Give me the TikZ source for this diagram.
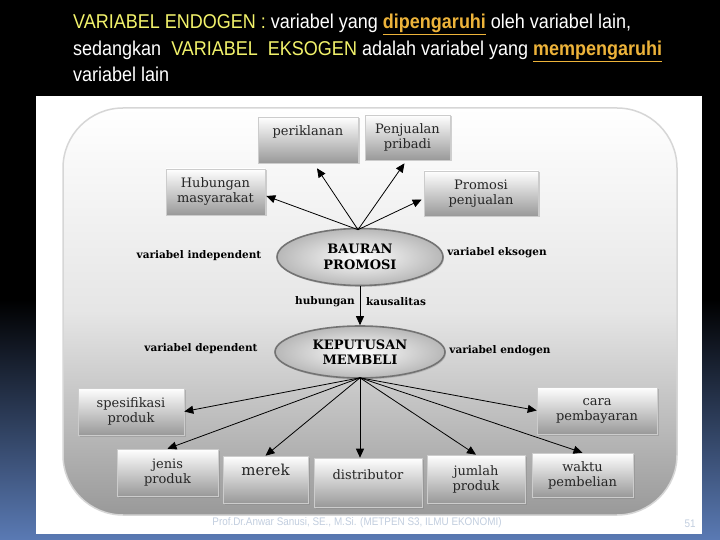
\documentclass[tikz,border=0pt]{standalone}
\usepackage{fontspec}
\setmainfont{DejaVu Serif}
\newfontfamily\headfont[FakeStretch=0.9]{Liberation Sans}
\usetikzlibrary{arrows.meta}
\usetikzlibrary{positioning}
\usetikzlibrary{shapes.geometric}
\usetikzlibrary{shadows}
\usetikzlibrary{calc}

\definecolor{titleyellow}{HTML}{F2F26B}
\definecolor{titleorange}{HTML}{EDB33A}
\definecolor{slideblue}{HTML}{5A7AB4}
\definecolor{footgray}{HTML}{C2CEDF}
\definecolor{panelline}{HTML}{D6D6D6}

\newcommand{\boxfont}{\fontsize{13}{15}\selectfont}
\newcommand{\tagfont}{\fontsize{10.5}{12}\selectfont\bfseries}
\newcommand{\headsize}{\headfont\fontsize{20}{24}\selectfont}

\tikzset{
  factor/.style={draw=white!80!black, line width=0.6pt, top color=white,
    bottom color=black!40, text=black!85, align=center, inner sep=0pt,
    font=\boxfont, drop shadow={opacity=0.35, shadow xshift=1.5pt, shadow yshift=-1.5pt}},
  core/.style={ellipse, draw=black!55, line width=1.6pt, inner color=white,
    outer color=black!28, align=center, inner sep=0pt,
    font=\fontsize{13}{15.5}\selectfont\bfseries,
    drop shadow={opacity=0.3, shadow xshift=1pt, shadow yshift=-1.5pt}},
  tag/.style={font=\tagfont, inner sep=0pt},
  heading/.style={anchor=base west, inner sep=0pt, font=\headsize, text=white},
  link/.style={-{Triangle[length=9pt,width=8pt]}, line width=0.8pt, black},
}

\begin{document}
\begin{tikzpicture}[x=1pt,y=-1pt]
  \useasboundingbox (0,0) rectangle (720,540);
  %slide background
  \fill[black] (0,0) rectangle (720,540);
  \shade[top color=black, bottom color=slideblue] (0,300) rectangle (720,540);
  \fill[white] (36,96) rectangle (702,534);
  \shade[top color=white, bottom color=black!40, middle color=black!10,
    draw=panelline, line width=1.5pt, rounded corners=60pt] (63,108) rectangle (677,515);

  %heading
  \node[heading] (line1) at (73,29)
    {\textcolor{titleyellow}{VARIABEL ENDOGEN :} variabel yang \textcolor{titleorange}{\bfseries\underline{dipengaruhi}} oleh variabel  lain,};
  \node[heading] (line2) at (73,56)
    {sedangkan \ \textcolor{titleyellow}{VARIABEL \ EKSOGEN} adalah variabel yang \textcolor{titleorange}{\bfseries\underline{mempengaruhi}}};
  \node[heading] (line3) at (73,82) {variabel lain};

  %upper factors
  \node[factor, minimum width=100pt, minimum height=46pt, text depth=18pt] (peri) at (308,140) {periklanan};
  \node[factor, minimum width=85pt, minimum height=45pt] (penj) at (407.5,137.5) {Penjualan\\pribadi};
  \node[factor, minimum width=99pt, minimum height=46pt] (hub) at (215.5,192) {Hubungan\\masyarakat};
  \node[factor, minimum width=114pt, minimum height=45pt] (promo) at (481,193.5) {Promosi\\penjualan};

  %the two ellipses
  \node[core, minimum width=166pt, minimum height=57pt] (bauran) at (360,257) {BAURAN\\PROMOSI};
  \node[core, minimum width=170pt, minimum height=52pt] (kepu) at (360,352) {KEPUTUSAN\\MEMBELI};

  \node[tag] (indep) at (199,256) {variabel independent};
  \node[tag] (ekso) at (497,253) {variabel eksogen};
  \node[tag] (dep) at (201,349) {variabel dependent};
  \node[tag] (endo) at (500,351) {variabel endogen};
  \node[tag] (hubu) at (325,302) {hubungan};
  \node[tag] (kaus) at (396,302) {kausalitas};

  %lower factors
  \node[factor, minimum width=106pt, minimum height=47pt] (spes) at (131,411.5) {spesifikasi\\produk};
  \node[factor, minimum width=120pt, minimum height=47pt] (cara) at (597,410.5) {cara\\pembayaran};
  \node[factor, minimum width=101pt, minimum height=47pt] (jenis) at (167.5,472.5) {jenis\\produk};
  \node[factor, minimum width=85pt, minimum height=47pt, text depth=20pt, font=\fontsize{15}{17}\selectfont] (merek) at (265.5,479.5) {merek};
  \node[factor, minimum width=108pt, minimum height=49pt, text depth=16pt] (distr) at (368,482.5) {distributor};
  \node[factor, minimum width=98pt, minimum height=48pt] (jumlah) at (476,479) {jumlah\\produk};
  \node[factor, minimum width=101pt, minimum height=44pt] (waktu) at (582.5,475) {waktu\\pembelian};

  %arrow ends
  \coordinate (srcTop) at ($(bauran.north)+(-2,2)$);
  \coordinate (srcLow) at ($(kepu.south)+(0,-1)$);
  \coordinate (tHub) at ($(hub.east)+(1,4)$);
  \coordinate (tPeri) at ($(peri.south)+(9,5)$);
  \coordinate (tPenj) at ($(penj.south)+(-3,3)$);
  \coordinate (tPromo) at ($(promo.west)+(-2,6)$);

  \foreach \t in {tHub,tPeri,tPenj,tPromo}
    \draw[link] (srcTop) -- (\t);
  \draw[link] (bauran.south) -- (kepu.north);
  \foreach \t in {spes.east,jenis.north,merek.north,jumlah.north,waktu.north,cara.west}
    \draw[link] (srcLow) -- (\t);
  \draw[link] (srcLow) -- (srcLow |- distr.north);

  %footer
  \node[font=\headfont\fontsize{11}{13}\selectfont, text=footgray] (foot) at (357,523)
    {Prof.Dr.Anwar Sanusi, SE., M.Si. (METPEN S3, ILMU EKONOMI)};
  \node[font=\headfont\fontsize{11}{13}\selectfont, text=footgray] (page) at (690,524) {51};
\end{tikzpicture}
\end{document}
